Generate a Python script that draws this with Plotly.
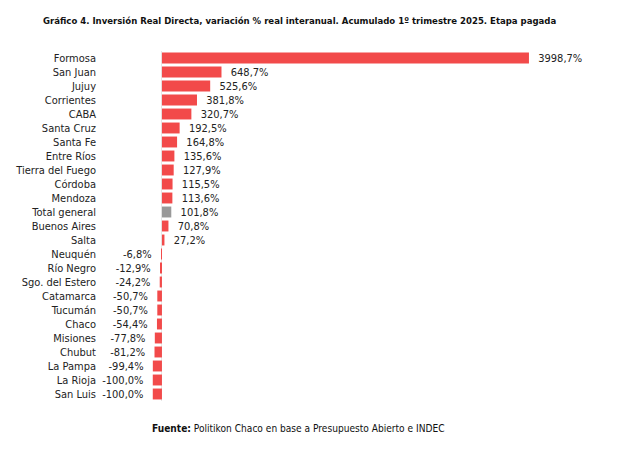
import plotly.graph_objects as go

# Datos
provincias = ["Formosa", "San Juan", "Jujuy", "Corrientes", "CABA", "Santa Cruz",
              "Santa Fe", "Entre Ríos", "Tierra del Fuego", "Córdoba", "Mendoza",
              "Total general", "Buenos Aires", "Salta", "Neuquén", "Río Negro",
              "Sgo. del Estero", "Catamarca", "Tucumán", "Chaco", "Misiones",
              "Chubut", "La Pampa", "La Rioja", "San Luis"]
variacion = [3998.7, 648.7, 525.6, 381.8, 320.7, 192.5, 164.8, 135.6, 127.9, 115.5,
             113.6, 101.8, 70.8, 27.2, -6.8, -12.9, -24.2, -50.7, -50.7, -54.4,
             -77.8, -81.2, -99.4, -100.0, -100.0]

ROJO = "#F24A4A"
GRIS = "#999999"
FUENTE = "DejaVu Sans Condensed, Liberation Sans Narrow, Roboto, sans-serif"

colores = [GRIS if p == "Total general" else ROJO for p in provincias]
# espacio duro para separar la etiqueta de la barra
etiquetas = []
for v in variacion:
    t = f"{v:.1f}".replace(".", ",") + "%"
    etiquetas.append("\u00a0\u00a0" + t if v >= 0 else t + "\u00a0\u00a0")

L, R = 92, 37
ancho = 637 - L - R

fig = go.Figure(go.Bar(
    x=variacion,
    y=provincias,
    orientation="h",
    marker=dict(color=colores, line=dict(width=0)),
    text=etiquetas,
    textposition="outside",
    constraintext="none",
    cliponaxis=False,
    textfont=dict(size=11, color="#222222", family=FUENTE),
))

fig.update_layout(
    width=637, height=459,
    margin=dict(l=L, r=R, t=43, b=66, autoexpand=False),
    paper_bgcolor="white", plot_bgcolor="white",
    bargap=0.22,
    showlegend=False,
    font=dict(family=FUENTE, size=11, color="#222222"),
    xaxis=dict(range=[-675, 4860], showgrid=False, showticklabels=False,
               zeroline=True, zerolinecolor="#e6e6e6", zerolinewidth=1),
    yaxis=dict(autorange="reversed", showgrid=False, ticks="", ticklabelstandoff=3,
               automargin=False, tickfont=dict(size=11, color="#222222")),
)

# Título y fuente
fig.add_annotation(
    text="<b>Gráfico 4. Inversión Real Directa, variación % real interanual. Acumulado 1º trimestre 2025. Etapa pagada</b>",
    xref="paper", yref="paper", x=(33 - L) / ancho, y=1.0, yshift=38,
    xanchor="left", showarrow=False,
    font=dict(size=9.5, color="#111111", family=FUENTE),
)
fig.add_annotation(
    text="<b>Fuente:</b> Politikon Chaco en base a Presupuesto Abierto e INDEC",
    xref="paper", yref="paper", x=(142 - L) / ancho, y=0, yshift=-35,
    xanchor="left", showarrow=False,
    font=dict(size=10.1, color="#111111", family=FUENTE),
)

fig.write_html("out.html")
